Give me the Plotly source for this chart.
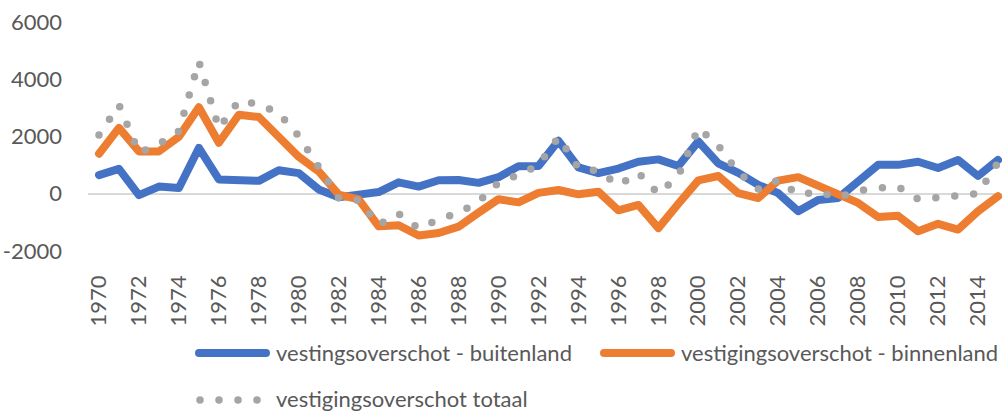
import plotly.graph_objects as go

years = list(range(1970, 2016))

buitenland = [650, 870, -50, 250, 200, 1600, 500, 490, 450, 820,
              720, 150, -120, -30, 60, 400, 250, 470, 480, 380,
              580, 960, 970, 1850, 920, 720, 880, 1120, 1200, 970,
              1830, 1060, 730, 310, 20, -610, -220, -150, 430, 1010,
              1010, 1120, 900, 1180, 620, 1180]

binnenland = [1400, 2300, 1480, 1480, 1990, 3020, 1780, 2760, 2680, 2000,
              1290, 780, -30, -200, -1140, -1100, -1460, -1370, -1150, -660,
              -190, -300, 30, 130, -20, 70, -580, -390, -1200, -350,
              470, 620, 20, -150, 460, 580, 280, 20, -320, -810,
              -770, -1310, -1050, -1250, -610, -90]

totaal = [2050, 3100, 1430, 1730, 2190, 4620, 2280, 3250, 3130, 2820,
          2010, 930, -150, -230, -1080, -700, -1210, -900, -670, -280,
          390, 660, 1000, 1980, 900, 790, 300, 730, 0, 620,
          2300, 1680, 750, 160, 480, -30, 60, -130, 110, 200,
          240, -190, -150, -70, 10, 1090]

names = ["vestingsoverschot - buitenland",
         "vestigingsoverschot - binnenland",
         "vestigingsoverschot totaal"]

y_ticks = [-2000, 0, 2000, 4000, 6000]
x_ticks = list(range(1970, 2015, 2))

BLUE = "#4472C4"
ORANGE = "#ED7D31"
GRAY = "#A5A5A5"
TXT = "#595959"
FONT = "Lato"
FS = 22
LW = 8
DW = 7.5

W, H = 1002, 411
L, R, T, B = 88, 0, 22, 160
PW = W - L - R
PH = H - T - B


def px(x):
    return (x - L) / PW


def py(y):
    return (H - B - y) / PH


fig = go.Figure()
fig.add_trace(go.Scatter(x=years, y=buitenland, mode="lines", name=names[0],
                         line=dict(color=BLUE, width=LW)))
fig.add_trace(go.Scatter(x=years, y=binnenland, mode="lines", name=names[1],
                         line=dict(color=ORANGE, width=LW)))
fig.add_trace(go.Scatter(x=years, y=totaal, mode="lines", name=names[2],
                         line=dict(color=GRAY, width=DW, dash="0px,19px")))

# custom legend (long line samples as in the original)
shapes = [
    dict(type="line", xref="paper", yref="paper", x0=px(199), x1=px(266),
         y0=py(353), y1=py(353), line=dict(color=BLUE, width=LW)),
    dict(type="line", xref="paper", yref="paper", x0=px(604), x1=px(671),
         y0=py(353), y1=py(353), line=dict(color=ORANGE, width=LW)),
    dict(type="line", xref="paper", yref="paper", x0=px(200), x1=px(258),
         y0=py(400), y1=py(400), line=dict(color=GRAY, width=DW, dash="0px,19px")),
]
annotations = [
    dict(xref="paper", yref="paper", x=px(274), y=py(352), text=names[0],
         showarrow=False, xanchor="left", yanchor="middle",
         font=dict(family=FONT, size=FS, color=TXT)),
    dict(xref="paper", yref="paper", x=px(679), y=py(352), text=names[1],
         showarrow=False, xanchor="left", yanchor="middle",
         font=dict(family=FONT, size=FS, color=TXT)),
    dict(xref="paper", yref="paper", x=px(274), y=py(398), text=names[2],
         showarrow=False, xanchor="left", yanchor="middle",
         font=dict(family=FONT, size=FS, color=TXT)),
]

fig.update_layout(
    width=W, height=H,
    margin=dict(l=L, r=R, t=T, b=B, pad=0),
    paper_bgcolor="white", plot_bgcolor="white",
    showlegend=False,
    shapes=shapes, annotations=annotations,
    font=dict(family=FONT, size=FS, color=TXT),
    xaxis=dict(range=[1969.45, 2015.2], tickmode="array", tickvals=x_ticks,
               ticktext=[str(v) for v in x_ticks], tickangle=-90,
               showgrid=False, zeroline=False, showline=False, ticks="",
               ticklabelstandoff=19,
               tickfont=dict(family=FONT, size=FS, color=TXT)),
    yaxis=dict(range=[-2000, 6000], tickmode="array", tickvals=y_ticks,
               ticktext=[str(v) for v in y_ticks],
               showgrid=False, zeroline=True, zerolinecolor="#D9D9D9",
               zerolinewidth=1.5, showline=False, ticks="",
               ticklabelstandoff=25,
               tickfont=dict(family=FONT, size=FS, color=TXT)),
)

post = """
var s = document.createElement('style');
s.innerHTML = 'html, body { margin: 0 !important; padding: 0 !important; overflow: hidden; } path.js-line, .shapelayer path { stroke-linecap: round !important; stroke-linejoin: round !important; }';
document.head.appendChild(s);
"""

fig.write_html("out.html", post_script=post, config={"displayModeBar": False})
